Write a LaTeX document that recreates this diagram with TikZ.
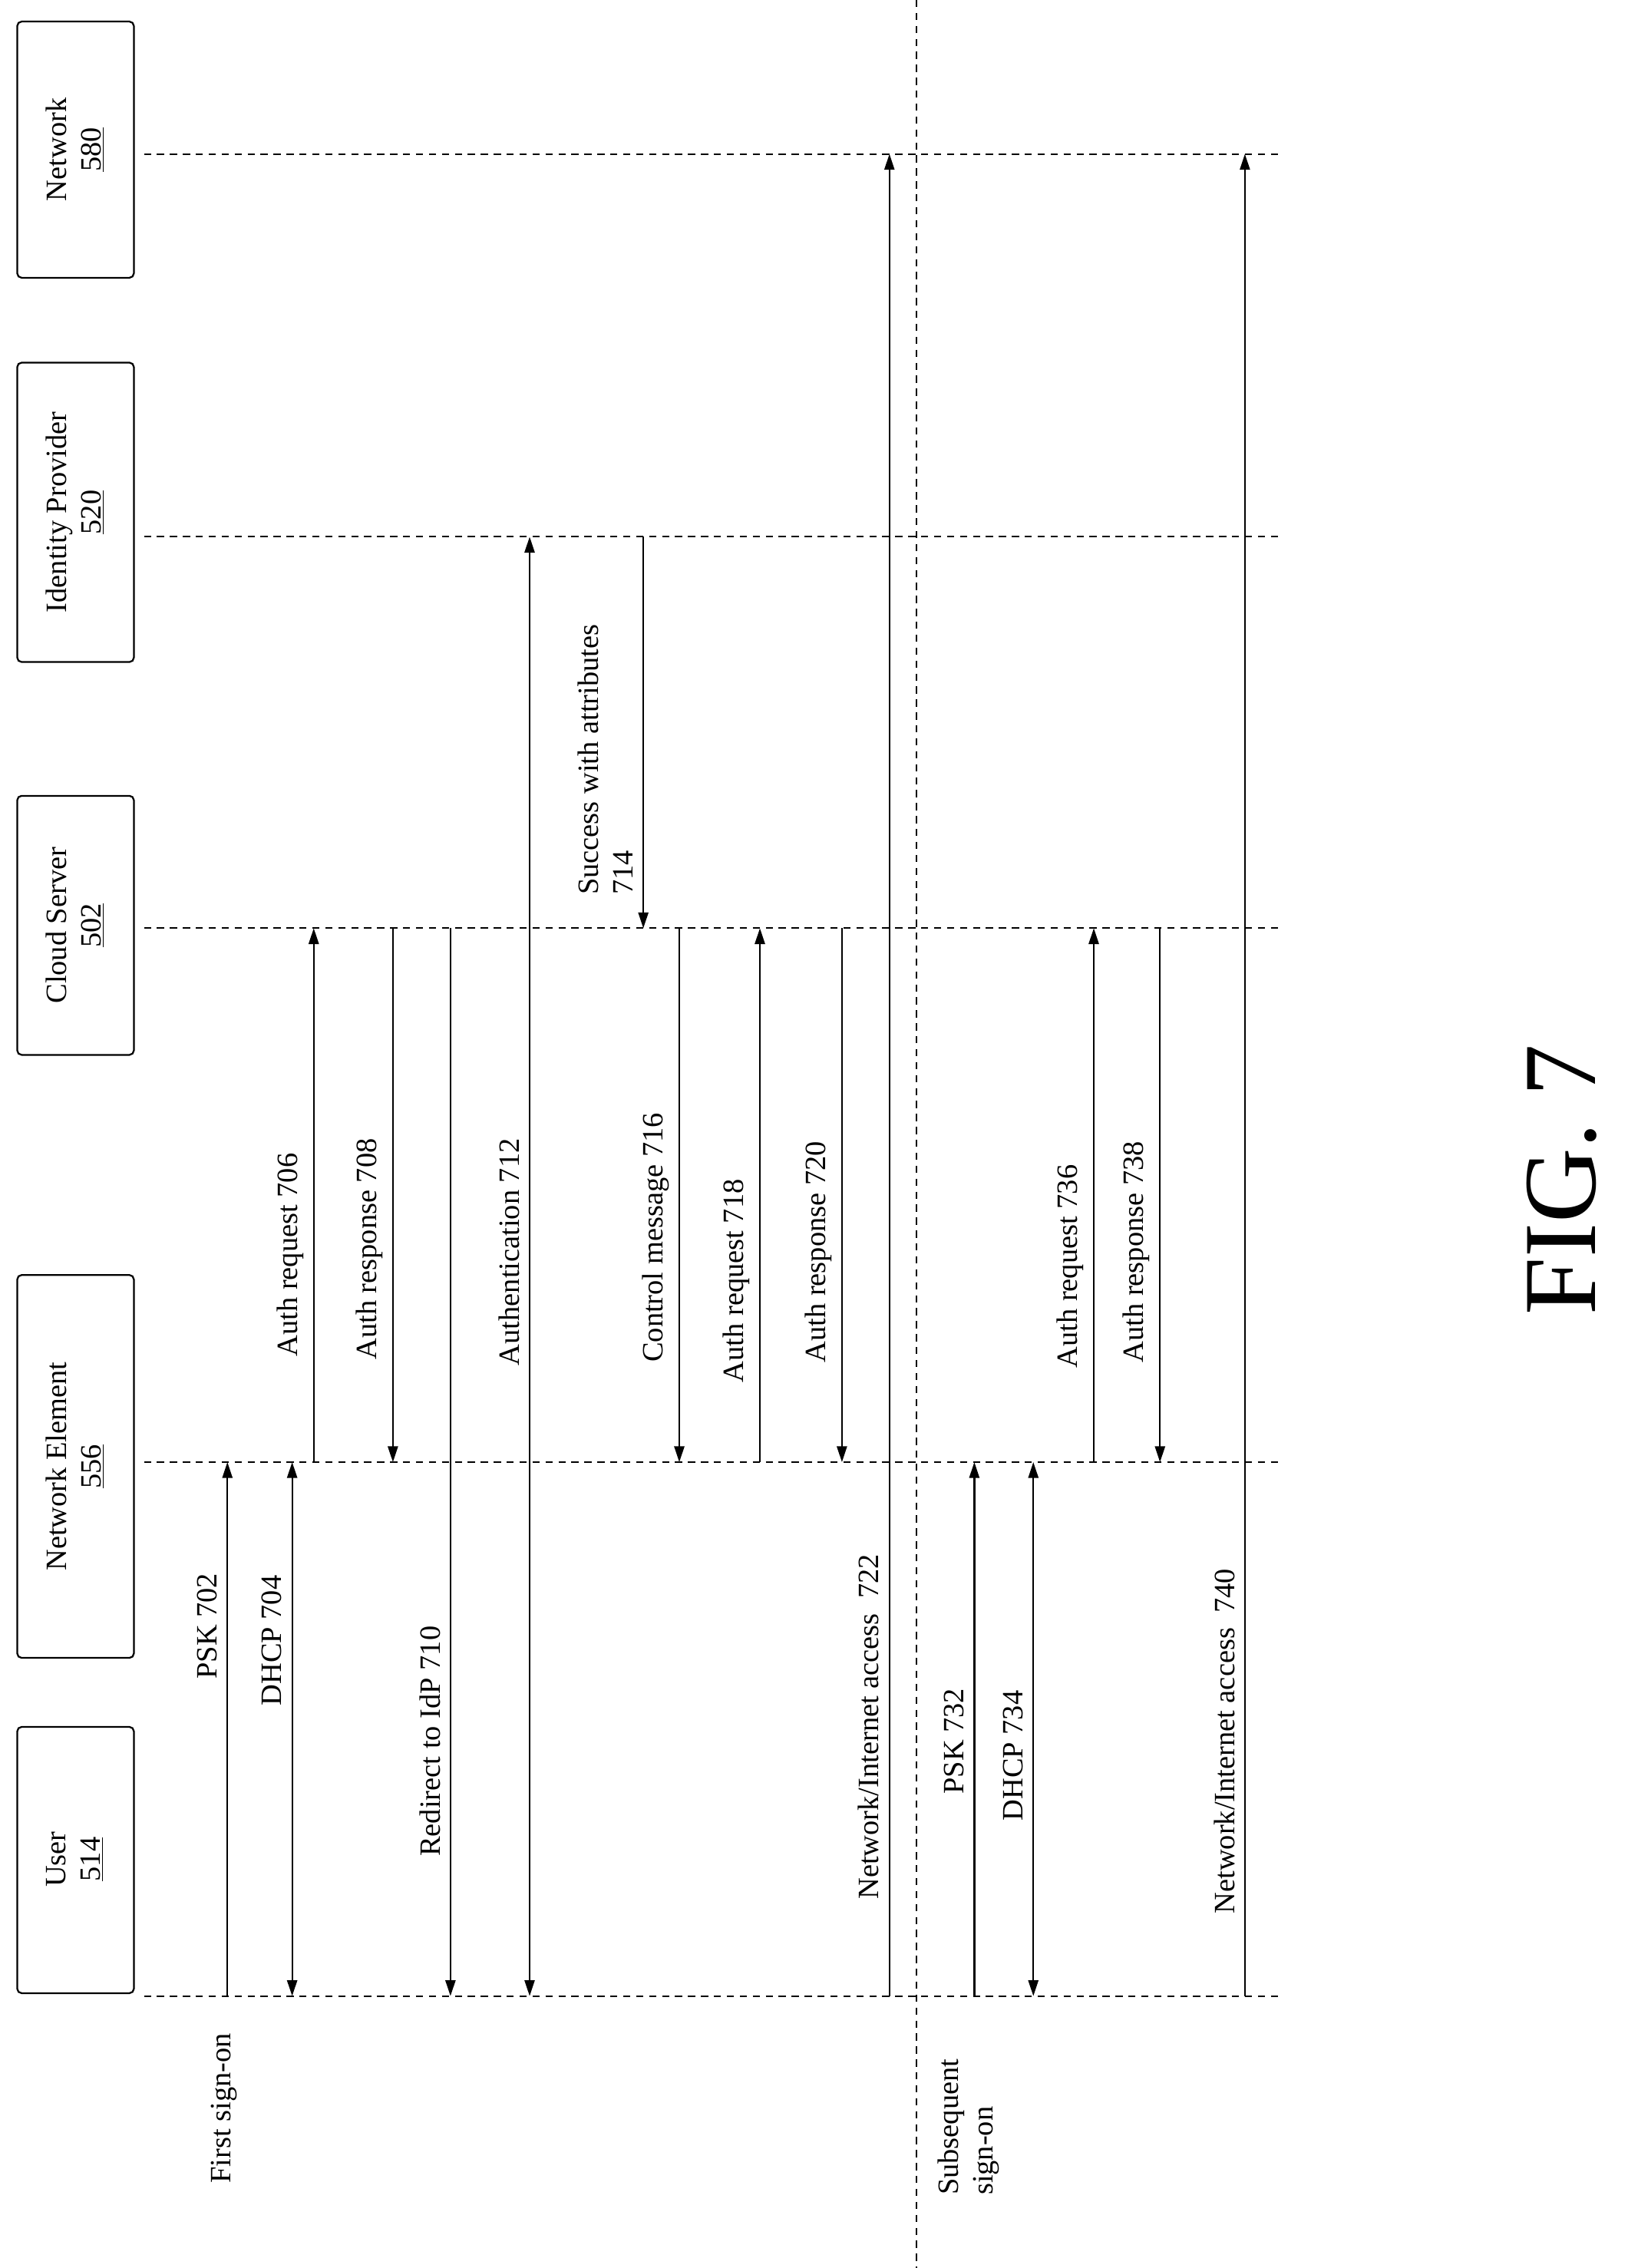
\documentclass[tikz,border=0pt]{standalone}
\usepackage{fontspec}
\setmainfont{Liberation Serif}
\usetikzlibrary{arrows.meta}
\begin{document}
\begin{tikzpicture}[x=1pt,y=-1pt,
  box/.style={draw,rounded corners=3pt,line width=1.2pt},
  life/.style={dash pattern=on 5pt off 4pt,line width=1pt},
  msg/.style={line width=1.2pt,-{Triangle[length=11pt,width=7pt]}},
  dmsg/.style={line width=1.2pt,{Triangle[length=11pt,width=7pt]}-{Triangle[length=11pt,width=7pt]}},
  lbl/.style={rotate=90,font=\fontsize{20.5}{24}\selectfont,anchor=south,inner sep=3pt},
  btxt/.style={rotate=90,font=\fontsize{20.5}{24}\selectfont,align=center}]
\useasboundingbox (0,0) rectangle (1131,1576);
% boxes
\draw[box] (12,15) rectangle (93,193); \node[btxt] (tNet) at (52,104) {Network\\\underline{580}};
\draw[box] (12,252) rectangle (93,460); \node[btxt] (tIdP) at (52,356) {Identity Provider\\\underline{520}};
\draw[box] (12,553) rectangle (93,733); \node[btxt] (tCS) at (52,643) {Cloud Server\\\underline{502}};
\draw[box] (12,886) rectangle (93,1152); \node[btxt] (tNE) at (52,1019) {Network Element\\\underline{556}};
\draw[box] (12,1200) rectangle (93,1385); \node[btxt] (tU) at (52,1292) {User\\\underline{514}};
% lifelines
\foreach \n/\y in {Net/107,IdP/373,CS/645,NE/1016,U/1387}{
  \coordinate (\n a) at (100,\y); \coordinate (\n b) at (890,\y);
  \draw[life] (\n a) -- (\n b);}
\coordinate (sepa) at (637,0); \coordinate (sepb) at (637,1576);
\draw[life] (sepa) -- (sepb);
\node[lbl] (first) at (168,1465) {First sign-on};
\node[btxt,anchor=north,align=left] (subs) at (648,1478) {Subsequent\\sign-on};
% messages
\newcommand\msgline[6]{% x, y1, y2, style, label, label y
  \coordinate (s#1) at (#1,#2); \coordinate (e#1) at (#1,#3);
  \draw[#4] (s#1) -- (e#1);
  \node[lbl] (l#1) at (#1-4,#6) {#5};}
\msgline{158}{1387}{1016}{msg}{PSK 702}{1130}
\msgline{203}{1387}{1016}{dmsg}{DHCP 704}{1140}
\msgline{218}{1016}{645}{msg}{Auth request 706}{872}
\msgline{273}{645}{1016}{msg}{Auth response 708}{868}
\msgline{313}{645}{1387}{msg}{Redirect to IdP 710}{1210}
\msgline{368}{1387}{373}{dmsg}{Authentication 712}{870}
\coordinate (s447) at (447,373); \coordinate (e447) at (447,645);
\draw[msg] (s447) -- (e447);
\node[btxt,anchor=south west,align=left,inner sep=3pt] (l447) at (443,625) {Success with attributes\\714};
\msgline{472}{645}{1016}{msg}{Control message 716}{860}
\msgline{528}{1016}{645}{msg}{Auth request 718}{890}
\msgline{585}{645}{1016}{msg}{Auth response 720}{870}
\msgline{618}{1387}{107}{msg}{Network/Internet access\ \ 722}{1200}
\msgline{677}{1387}{1016}{msg}{PSK 732}{1210}
\msgline{718}{1016}{1387}{dmsg}{DHCP 734}{1220}
\msgline{760}{1016}{645}{msg}{Auth request 736}{880}
\msgline{806}{645}{1016}{msg}{Auth response 738}{870}
\msgline{865}{1387}{107}{msg}{Network/Internet access\ \ 740}{1210}
\node[rotate=90,font=\fontsize{72}{80}\selectfont] (fig) at (1085,820) {FIG. 7};
\end{tikzpicture}
\end{document}
